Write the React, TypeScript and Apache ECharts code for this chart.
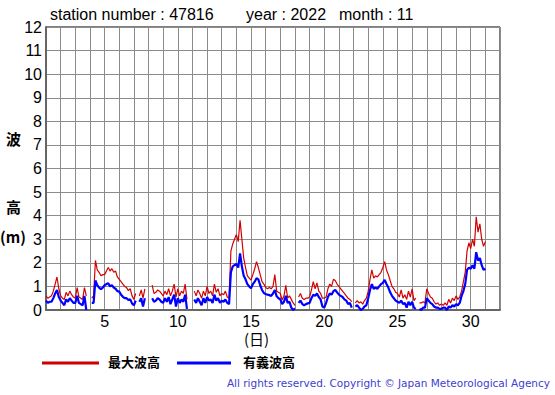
import React, { useEffect, useRef } from "react";
import * as echarts from "echarts";

// 3-hourly values (00,03,...,21h) per day, day 1..30, plus end point (day 31.0)
const maxWave: (number | null)[] = [
  0.6, 0.5, 0.55, 0.6, 0.8, 1.1, 1.4, 0.9,
  0.6, 0.5, 0.45, 0.75, 0.6, 0.8, 0.65, 0.55,
  0.5, 0.95, 0.55, 0.5, 0.45, 0.95, 0.6, null,
  null, 0.5, 0.6, 2.1, 1.7, 1.6, 1.45, 1.5,
  1.5, 1.65, 1.8, 1.65, 1.75, 1.6, 1.65, 1.4,
  1.3, 1.2, 1.1, 1.0, 0.95, 0.82, 0.9, 0.6,
  0.45, 0.7, null, 0.6, 0.85, 0.5, 0.9, null,
  null, null, 1.05, 0.7, 0.75, 0.85, 0.8, 0.7,
  0.6, 0.8, 0.65, 0.9, 0.6, 0.8, 1.1, 0.55,
  0.9, 0.6, 0.8, 0.7, 1.1, 0.45, null, null,
  null, 0.8, 0.6, 0.85, 0.7, 0.5, 0.8, 0.6,
  1.0, 0.7, 0.8, 0.6, 1.1, 0.75, 0.9, 0.6,
  0.7, 0.65, 0.8, 0.55, 0.5, 2.5, 2.8, 3.0,
  3.2, 2.9, 3.8, 3.0, 2.2, 1.8, 1.45, 1.35,
  1.27, 1.5, 1.75, 2.05, 1.8, 1.5, 1.2, 1.1,
  0.95, 0.9, 0.95, 0.9, 1.0, 1.5, 0.8, 0.75,
  0.7, 0.42, 0.6, 1.05, 0.5, 0.6, 0.45, 0.3,
  0.2, null, 0.55, 0.7, 0.5, 0.45, 0.5, 0.5,
  0.55, 0.85, 1.2, 0.9, 1.15, 0.8, 0.7, 0.5,
  0.5, 0.55, 0.9, 1.1, 1.0, 1.3, 1.25, 1.1,
  1.0, 0.9, 0.8, 0.7, 0.6, 0.5, 0.45, 0.35,
  null, 0.3, 0.4, 0.3, 0.35, 0.25, 0.4, 0.5,
  0.8, 1.3, 1.7, 1.35, 1.45, 1.4, 1.5, 1.6,
  1.8, 2.05, 1.7, 1.5, 1.25, 1.0, 0.9, 0.75,
  0.7, 0.55, 0.85, 0.5, 0.65, 0.45, 0.8, 0.55,
  0.9, 0.4, 0.5, null, 0.3, 0.3, 0.35, 0.3,
  0.9, 0.7, 0.55, 0.5, 0.35, 0.25, 0.3, 0.2,
  0.25, 0.2, 0.3, 0.2, 0.45, 0.3, 0.5, 0.4,
  0.6, 0.45, 0.55, 0.8, 1.2, 1.6, 2.5, 2.85,
  2.6, 3.0, 2.7, 3.95, 3.3, 3.65, 3.0, 2.7,
  2.9,
];

const sigWave: (number | null)[] = [
  0.4, 0.3, 0.35, 0.35, 0.5, 0.7, 0.85, 0.55,
  0.4, 0.3, 0.2, 0.45, 0.35, 0.5, 0.4, 0.3,
  0.3, 0.6, 0.3, 0.25, 0.2, 0.6, 0.0, null,
  null, 0.3, 0.3, 1.25, 1.05, 0.95, 0.88, 0.95,
  1.05, 1.1, 1.13, 1.0, 1.05, 0.95, 0.9, 0.8,
  0.78, 0.65, 0.56, 0.5, 0.5, 0.42, 0.45, 0.28,
  0.2, 0.4, null, 0.35, 0.5, 0.15, 0.5, null,
  null, null, 0.5, 0.35, 0.4, 0.5, 0.45, 0.35,
  0.3, 0.5, 0.35, 0.55, 0.25, 0.45, 0.65, 0.15,
  0.5, 0.3, 0.45, 0.35, 0.65, 0.05, null, null,
  null, 0.45, 0.3, 0.5, 0.35, 0.2, 0.5, 0.3,
  0.55, 0.4, 0.45, 0.3, 0.65, 0.4, 0.5, 0.3,
  0.4, 0.35, 0.45, 0.3, 0.25, 1.6, 1.85, 1.9,
  1.95, 1.8, 2.4, 1.85, 1.45, 1.3, 1.1, 1.0,
  0.92, 1.1, 1.2, 1.35, 1.3, 1.05, 0.85, 0.72,
  0.68, 0.65, 0.63, 0.6, 0.7, 0.85, 0.58, 0.5,
  0.45, 0.25, 0.35, 0.6, 0.3, 0.35, 0.1, 0.0,
  0.07, null, 0.3, 0.4, 0.25, 0.2, 0.25, 0.28,
  0.3, 0.5, 0.65, 0.6, 0.7, 0.55, 0.45, 0.15,
  0.1, 0.3, 0.55, 0.7, 0.65, 0.8, 0.85, 0.75,
  0.65, 0.6, 0.55, 0.45, 0.4, 0.25, 0.3, 0.1,
  null, 0.15, 0.2, 0.1, 0.0, 0.05, 0.15, 0.2,
  0.5, 0.85, 1.1, 0.9, 0.95, 0.9, 1.0, 1.1,
  1.15, 1.28, 1.1, 0.95, 0.75, 0.6, 0.5, 0.4,
  0.35, 0.3, 0.4, 0.25, 0.3, 0.1, 0.35, 0.2,
  0.35, 0.1, 0.05, null, 0.05, 0.0, 0.1, 0.1,
  0.5, 0.4, 0.3, 0.25, 0.15, 0.1, 0.1, 0.05,
  0.05, 0.1, 0.1, 0.0, 0.15, 0.1, 0.2, 0.15,
  0.25, 0.2, 0.3, 0.6, 0.8, 1.1, 1.7, 1.8,
  1.75, 1.9, 1.75, 2.45, 2.1, 2.2, 1.9, 1.7,
  1.75,
];

const xTickLabels = [5, 10, 15, 20, 25, 30];
const titleStation = "station number : 47816";
const titleYear = "year : 2022";
const titleMonth = "month : 11";
const legendMax = "最大波高";
const legendSig = "有義波高";
const copyright = "All rights reserved. Copyright © Japan Meteorological Agency";

const FONT = "'Liberation Sans', Arial, sans-serif";
const CJK = "'Noto Sans CJK JP', sans-serif";

export default function App() {
  const ref = useRef<HTMLDivElement>(null);
  useEffect(() => {
    const chart = echarts.init(ref.current!, null, { renderer: "svg" });
    const toPairs = (arr: (number | null)[]) =>
      arr.map((v, i) => [1 + i / 8, v]);
    const titleStyle = { fontSize: 16, fontFamily: FONT, fill: "#000" };
    chart.setOption({
      animation: false,
      backgroundColor: "#fff",
      grid: {
        left: 46,
        top: 27,
        right: 55,
        bottom: 85,
        show: true,
        borderColor: "#000",
        borderWidth: 1,
      },
      xAxis: {
        type: "value",
        min: 1,
        max: 32,
        interval: 1,
        axisLine: { show: true, lineStyle: { color: "#666", width: 2 } },
        axisTick: { show: false },
        splitLine: { show: true, lineStyle: { color: "#8c8c8c", width: 1 } },
        axisLabel: {
          margin: 3,
          fontSize: 16,
          fontFamily: FONT,
          color: "#000",
          formatter: (v: number) => (xTickLabels.includes(v) ? String(v) : ""),
        },
      },
      yAxis: {
        type: "value",
        min: 0,
        max: 12,
        interval: 1,
        axisLine: { show: true, lineStyle: { color: "#666", width: 2 } },
        axisTick: { show: false },
        splitLine: { show: true, lineStyle: { color: "#8c8c8c", width: 1 } },
        axisLabel: {
          margin: 4,
          fontSize: 16,
          fontFamily: FONT,
          color: "#000",
        },
      },
      series: [
        {
          name: legendMax,
          type: "line",
          data: toPairs(maxWave),
          showSymbol: false,
          connectNulls: false,
          lineStyle: { color: "#d40000", width: 1.2 },
          z: 2,
        },
        {
          name: legendSig,
          type: "line",
          data: toPairs(sigWave),
          showSymbol: false,
          connectNulls: false,
          lineStyle: { color: "#0000ff", width: 2.2 },
          z: 3,
        },
      ],
      graphic: [
        { type: "text", left: 50, top: 6, style: { text: titleStation, ...titleStyle } },
        { type: "text", left: 246, top: 6, style: { text: titleYear, ...titleStyle } },
        { type: "text", left: 339, top: 6, style: { text: titleMonth, ...titleStyle } },
        {
          type: "text",
          left: 6,
          top: 131,
          style: { text: "波", fontSize: 15, fontWeight: "bold", fontFamily: CJK, fill: "#000" },
        },
        {
          type: "text",
          left: 6,
          top: 199,
          style: { text: "高", fontSize: 15, fontWeight: "bold", fontFamily: CJK, fill: "#000" },
        },
        {
          type: "text",
          left: 0,
          top: 229,
          style: { text: "(m)", fontSize: 15, fontWeight: "bold", fontFamily: CJK, fill: "#000" },
        },
        {
          type: "text",
          left: 244,
          top: 331,
          style: { text: "(日)", fontSize: 15, fontFamily: CJK, fill: "#000" },
        },
        {
          type: "line",
          shape: { x1: 42, y1: 363, x2: 99, y2: 363 },
          style: { stroke: "#cc0000", lineWidth: 3 },
        },
        {
          type: "text",
          left: 108,
          top: 355,
          style: { text: legendMax, fontSize: 13, fontWeight: "bold", fontFamily: CJK, fill: "#000" },
        },
        {
          type: "line",
          shape: { x1: 177, y1: 363, x2: 231, y2: 363 },
          style: { stroke: "#0000ff", lineWidth: 3 },
        },
        {
          type: "text",
          left: 243,
          top: 355,
          style: { text: legendSig, fontSize: 13, fontWeight: "bold", fontFamily: CJK, fill: "#000" },
        },
        {
          type: "text",
          right: 5,
          top: 377,
          style: { text: copyright, fontSize: 10.5, fontFamily: "'DejaVu Sans', sans-serif", fill: "#4040d0" },
        },
      ],
    });
    return () => chart.dispose();
  }, []);
  return (
    <div
      ref={ref}
      style={{ position: "fixed", left: 0, top: 0, width: 555, height: 395 }}
    />
  );
}
